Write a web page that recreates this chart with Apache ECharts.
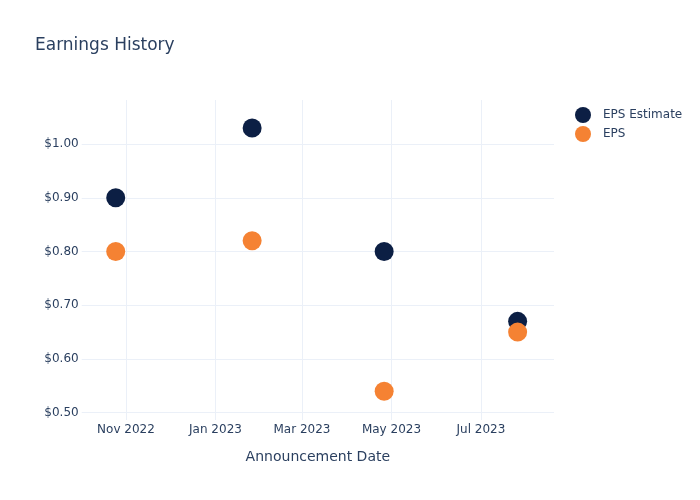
<!DOCTYPE html>
<html>
<head>
<meta charset="utf-8">
<script src="https://cdn.jsdelivr.net/npm/echarts@6/dist/echarts.min.js"></script>
<style>html,body{margin:0;padding:0;background:#fff}#c{width:700px;height:500px}</style>
</head>
<body>
<div id="c"></div>
<script>
var dates = ['2022-10-25', '2023-01-26', '2023-04-26', '2023-07-26'];
var epsEstimate = [0.90, 1.03, 0.80, 0.67];
var eps = [0.80, 0.82, 0.54, 0.65];
var xTickDates = ['2022-11-01', '2023-01-01', '2023-03-01', '2023-05-01', '2023-07-01'];
var xTickLabels = ['Nov 2022', 'Jan 2023', 'Mar 2023', 'May 2023', 'Jul 2023'];
var yTicks = [0.5, 0.6, 0.7, 0.8, 0.9, 1.0];

function ts(s) { var p = s.split('-'); return Date.UTC(+p[0], +p[1] - 1, +p[2]); }
var xTickVals = xTickDates.map(ts);
var DAY = 86400000;
var xMin = ts('2022-10-01') + 0.8 * DAY;
var xMax = ts('2023-08-19') + 0.8 * DAY;

var txt = '#2a3f5f';
var font = 'DejaVu Sans';
var chart = echarts.init(document.getElementById('c'), null, {renderer: 'canvas'});
chart.setOption({
  animation: false,
  backgroundColor: '#fff',
  textStyle: {fontFamily: font},
  title: {
    text: 'Earnings History', left: 30, top: 32,
    textStyle: {fontFamily: font, fontSize: 17, fontWeight: 'normal', color: txt}
  },
  legend: {
    orient: 'vertical', left: 570, top: 102,
    icon: 'circle', itemWidth: 30, itemHeight: 16, itemGap: 3,
    textStyle: {fontFamily: font, fontSize: 12, color: txt},
    data: ['EPS Estimate', 'EPS']
  },
  grid: {left: 81.7, right: 146, top: 100, bottom: 80, containLabel: false},
  xAxis: {
    type: 'value', min: xMin, max: xMax,
    name: 'Announcement Date', nameLocation: 'middle', nameGap: 30,
    nameTextStyle: {fontFamily: font, fontSize: 14, color: txt},
    axisLine: {show: false},
    axisTick: {show: false, customValues: xTickVals},
    splitLine: {show: true, lineStyle: {color: '#ebf0f8', width: 1}},
    axisLabel: {
      customValues: xTickVals, margin: 4, fontFamily: font, fontSize: 12, color: txt,
      formatter: function (v) {
        for (var i = 0; i < xTickVals.length; i++) if (Math.abs(xTickVals[i] - v) < DAY / 2) return xTickLabels[i];
        return '';
      }
    }
  },
  yAxis: {
    type: 'value', min: 0.4864, max: 1.082,
    axisLine: {show: false},
    axisTick: {show: false, customValues: yTicks},
    splitLine: {show: true, lineStyle: {color: '#ebf0f8', width: 1}},
    axisLabel: {
      customValues: yTicks, margin: 3, fontFamily: font, fontSize: 12, color: txt,
      formatter: function (v) { return '$' + v.toFixed(2); }
    }
  },
  series: [
    {
      name: 'EPS Estimate', type: 'scatter', symbol: 'circle', symbolSize: 19,
      itemStyle: {color: '#0c1f44', opacity: 1},
      data: dates.map(function (d, i) { return [ts(d), epsEstimate[i]]; })
    },
    {
      name: 'EPS', type: 'scatter', symbol: 'circle', symbolSize: 19,
      itemStyle: {color: '#f58233', opacity: 1},
      data: dates.map(function (d, i) { return [ts(d), eps[i]]; })
    }
  ]
});
</script>
</body>
</html>
